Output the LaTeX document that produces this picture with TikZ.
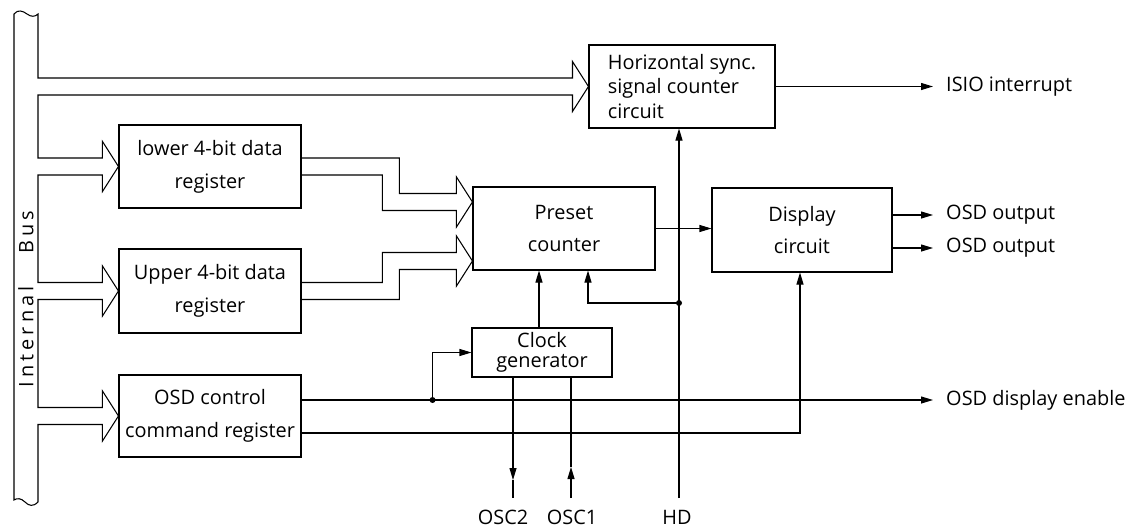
\documentclass[tikz,border=0pt]{standalone}
\usepackage{fontspec}
\setmainfont{Open Sans}
\usetikzlibrary{arrows.meta,calc}

\begin{document}
\begin{tikzpicture}[x=0.03cm, y=-0.03cm,
    wire/.style={line width=0.9pt},
    box/.style={draw, line width=0.9pt, align=center, inner sep=0pt, font=\fontsize{17}{28}\selectfont},
    sig/.style={line width=0.9pt, -{Triangle[length=3.6mm, width=2.1mm]}},
    lbl/.style={anchor=west, inner xsep=0.39cm, inner ysep=0pt, font=\fontsize{17}{20}\selectfont},
    pinlbl/.style={anchor=north, inner sep=0pt, font=\fontsize{17}{20}\selectfont},
    junction/.style={fill=black}
]

% Page
\fill[white] (0,0) rectangle (1135,529);
\useasboundingbox (0,0) rectangle (1135,529);

% Blocks
\node[box, align=left, minimum width=5.58cm, minimum height=2.49cm, font=\fontsize{17}{21}\selectfont] (hsync) at (682,86.5) {Horizontal sync.\\signal counter\\circuit};
\node[box, minimum width=5.46cm, minimum height=2.49cm] (lowreg) at (210,166.5) {lower 4-bit data\\register};
\node[box, minimum width=5.46cm, minimum height=2.52cm] (upreg) at (210,291) {Upper 4-bit data\\register};
\node[box, minimum width=5.46cm, minimum height=2.46cm] (osdreg) at (210,416) {OSD control\\command register};
\node[box, minimum width=5.46cm, minimum height=2.49cm] (preset) at (564,228.5) {Preset\\counter};
\node[box, minimum width=5.40cm, minimum height=2.52cm] (display) at (802,230) {Display\\circuit};
\node[box, minimum width=4.20cm, minimum height=1.47cm, font=\fontsize{17}{17}\selectfont] (clock) at (542,352.5) {Clock\\generator};

% Outside signals
\node[lbl] (isio) at (933,86.5) {ISIO interrupt};
\node[lbl] (out1) at (933,215) {OSD output};
\node[lbl] (out2) at (933,248) {OSD output};
\node[lbl] (enable) at (933,400) {OSD display enable};
\coordinate (osc2end) at (513,498);
\coordinate (osc1end) at (571,498);
\coordinate (hdend) at (679,498);
\node[pinlbl] (osc2) at (503,510) {OSC2};
\node[pinlbl] (osc1) at (572,510) {OSC1};
\node[pinlbl] (hd) at (677,510) {HD};

% Internal bus with its four branches
\draw[wire] (14,14) .. controls (18,9) and (23,11) .. (27,14) .. controls (31,17) and (35,17) .. (38,14)
  -- ($(38,0 |- hsync.west)+(0,-8.5)$) -- ($(hsync.west)+(-16,-8.5)$) -- ($(hsync.west)+(-16,-25)$) -- (hsync.west)
  -- ($(hsync.west)+(-16,25)$) -- ($(hsync.west)+(-16,8.5)$) -- ($(38,0 |- hsync.west)+(0,8.5)$)
  -- ($(38,0 |- lowreg.west)+(0,-8.5)$) -- ($(lowreg.west)+(-16,-8.5)$) -- ($(lowreg.west)+(-16,-25)$) -- (lowreg.west)
  -- ($(lowreg.west)+(-16,25)$) -- ($(lowreg.west)+(-16,8.5)$) -- ($(38,0 |- lowreg.west)+(0,8.5)$)
  -- ($(38,0 |- upreg.west)+(0,-8.5)$) -- ($(upreg.west)+(-16,-8.5)$) -- ($(upreg.west)+(-16,-25)$) -- (upreg.west)
  -- ($(upreg.west)+(-16,25)$) -- ($(upreg.west)+(-16,8.5)$) -- ($(38,0 |- upreg.west)+(0,8.5)$)
  -- ($(38,0 |- osdreg.west)+(0,-8.5)$) -- ($(osdreg.west)+(-16,-8.5)$) -- ($(osdreg.west)+(-16,-25)$) -- (osdreg.west)
  -- ($(osdreg.west)+(-16,25)$) -- ($(osdreg.west)+(-16,8.5)$) -- ($(38,0 |- osdreg.west)+(0,8.5)$)
  -- (38,502) .. controls (33,507) and (29,506) .. (25,502) .. controls (21,498) and (17,498) .. (14,500) -- cycle;
\node[rotate=90, font=\fontsize{17}{20}\selectfont] (buslbl) at (26,299)
  {I\hspace{3.5pt}n\hspace{3.5pt}t\hspace{3.5pt}e\hspace{3.5pt}r\hspace{3.5pt}n\hspace{3.5pt}a\hspace{3.5pt}l\hspace{28pt}B\hspace{3.5pt}u\hspace{3.5pt}s};

% Data registers to preset counter
\coordinate (ina) at ($(preset.west)+(0,-26.5)$);
\coordinate (inb) at ($(preset.west)+(0,32.5)$);
\draw[wire] ($(lowreg.east)+(0,-8.5)$) -| ($(ina)+(-73,-8.5)$) -- ($(ina)+(-16,-8.5)$) -- ($(ina)+(-16,-25)$) -- (ina)
  -- ($(ina)+(-16,25)$) -- ($(ina)+(-16,8.5)$) -- ($(ina)+(-90,8.5)$) |- ($(lowreg.east)+(0,8.5)$);
\draw[wire] ($(upreg.east)+(0,-8.5)$) -| ($(inb)+(-90,-8.5)$) -- ($(inb)+(-16,-8.5)$) -- ($(inb)+(-16,-25)$) -- (inb)
  -- ($(inb)+(-16,25)$) -- ($(inb)+(-16,8.5)$) -- ($(inb)+(-73,8.5)$) |- ($(upreg.east)+(0,8.5)$);

% Counter, display and sync signals
\draw[sig] (preset.east) -- (preset.east -| display.west);
\draw[sig] (hsync.east) -- (isio.west);
\draw[sig] ($(display.east)+(0,-15)$) -- (out1.west);
\draw[sig] ($(display.east)+(0,18)$) -- (out2.west);
\draw[sig] (hdend) -- (hdend |- hsync.south);
\coordinate (hddot) at (679,303);
\draw[sig] (hddot) -| ($(preset.south)+(24,0)$);
\fill[junction] (hddot) circle (0.09cm);
\draw[sig] (clock.north -| 539,0) -- (preset.south -| 539,0);

% OSD control lines
\coordinate (osddot) at ($(osdreg.east)+(131,-16)$);
\draw[sig] ($(osdreg.east)+(0,-16)$) -- (enable.west);
\draw[sig] (osddot) |- (clock.west);
\fill[junction] (osddot) circle (0.09cm);
\draw[sig] ($(osdreg.east)+(0,17)$) -| ($(display.south)+(-2,0)$);

% Oscillator pins
\draw[sig] (clock.south -| osc2end) -- ($(osc2end)+(0,-18)$);
\draw[wire] ($(osc2end)+(0,-18)$) -- (osc2end);
\draw[sig] (osc1end) -- ($(osc1end)+(0,-31)$);
\draw[wire] ($(osc1end)+(0,-31)$) -- (clock.south -| osc1end);

\end{tikzpicture}
\end{document}
